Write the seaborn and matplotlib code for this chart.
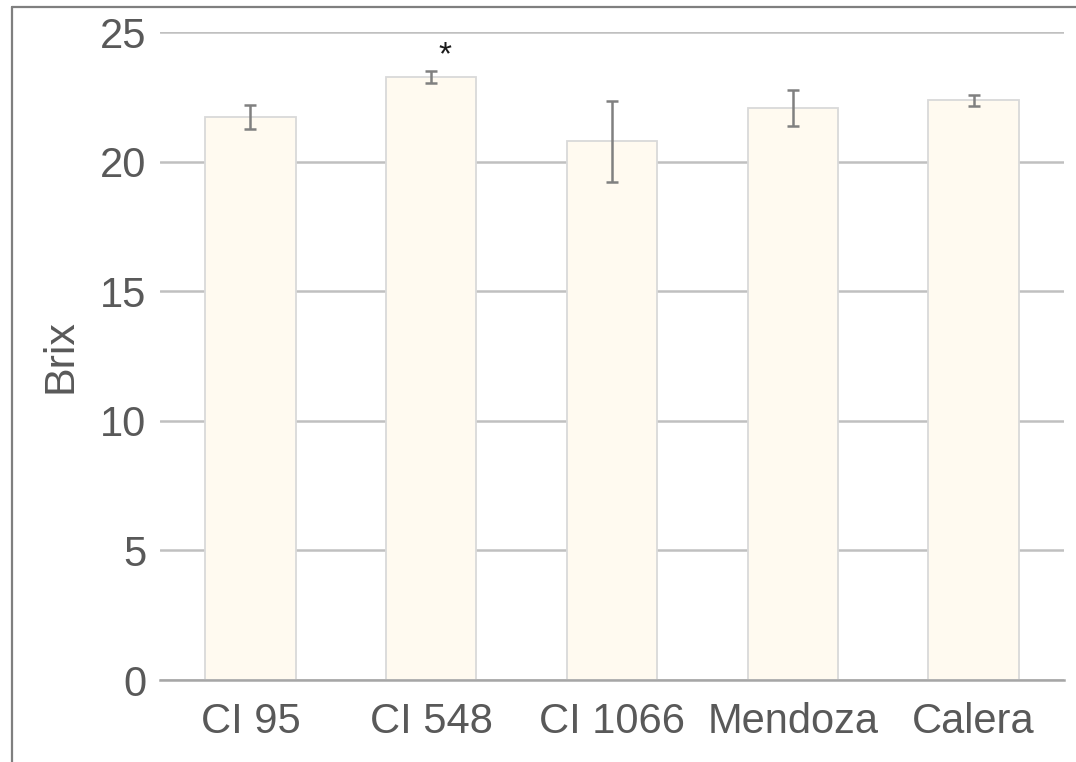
import numpy as np
import pandas as pd
import matplotlib
matplotlib.use("Agg")
import matplotlib.pyplot as plt
from matplotlib.lines import Line2D
import seaborn as sns

# Brix by clone / cultivar, mean with error bars
cultivars = ["CI 95", "CI 548", "CI 1066", "Mendoza", "Calera"]
brix_mean = [21.72, 23.26, 20.78, 22.08, 22.36]
brix_err = [0.46, 0.23, 1.55, 0.70, 0.20]
significant = [False, True, False, False, False]
y_ticks = [0, 5, 10, 15, 20, 25]

sns.set_theme(style="white")
plt.rcParams["font.family"] = ["Liberation Sans", "DejaVu Sans"]

df = pd.DataFrame({"cultivar": cultivars, "brix": brix_mean})

fig = plt.figure(figsize=(10.76, 7.62), dpi=100)
ax = fig.add_axes([0.1487, 0.1076, 0.9888 - 0.1487, 0.958 - 0.1076])

sns.barplot(data=df, x="cultivar", y="brix", order=cultivars, ax=ax,
            color="#fffaf0", saturation=1, width=0.5,
            edgecolor="#d9d9d9", linewidth=1.3, errorbar=None, zorder=3)

pos = np.arange(len(cultivars))
ax.errorbar(pos, brix_mean, yerr=brix_err, fmt="none", ecolor="#808080",
            elinewidth=1.8, capsize=4.5, capthick=1.8, zorder=4)

for x, m, e, s in zip(pos, brix_mean, brix_err, significant):
    if s:
        ax.annotate("*", xy=(x, m + e), xytext=(10, 0), textcoords="offset points",
                    ha="center", va="bottom", fontsize=24, color="#1a1a1a")

ax.set_ylim(0, 25)
ax.set_xlim(-0.5, len(cultivars) - 0.5)
ax.set_yticks(y_ticks)
ax.yaxis.grid(True, color="#c0c0c0", linewidth=1.8, zorder=0)
ax.set_axisbelow(True)
for side in ["top", "right", "left"]:
    ax.spines[side].set_visible(False)
ax.spines["bottom"].set_color("#a6a6a6")
ax.spines["bottom"].set_linewidth(1.8)
ax.spines["bottom"].set_zorder(5)

ax.tick_params(axis="both", length=0, labelsize=30, colors="#595959")
ax.tick_params(axis="y", pad=10)
ax.tick_params(axis="x", pad=16)
ax.set_xlabel("")
ax.set_ylabel("Brix", fontsize=31, color="#595959", labelpad=14)

# thin frame along the top and left edges
fig.add_artist(Line2D([0.0112, 0.0112], [0.0, 0.991], transform=fig.transFigure,
                      color="#7f7f7f", linewidth=1.6))
fig.add_artist(Line2D([0.0112, 1.0], [0.991, 0.991], transform=fig.transFigure,
                      color="#7f7f7f", linewidth=1.6))

fig.savefig("out.png", dpi=100, facecolor="white")
